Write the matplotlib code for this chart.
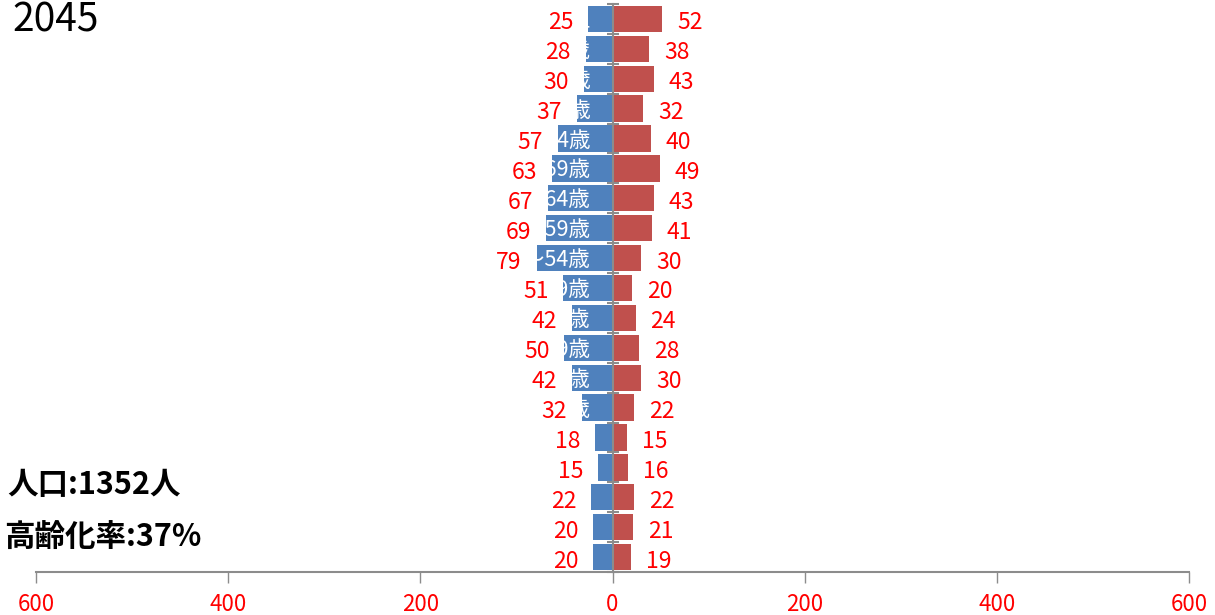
import numpy as np
import matplotlib.pyplot as plt

plt.rcParams['font.family'] = ['Noto Sans CJK JP', 'DejaVu Sans']

# 年齢階級（上から90歳以上 → 0～4歳）
ages = ["90歳以上", "85～89歳", "80～84歳", "75～79歳", "70～74歳", "65～69歳",
        "60～64歳", "55～59歳", "50～54歳", "45～49歳", "40～44歳", "35～39歳",
        "30～34歳", "25～29歳", "20～24歳", "15～19歳", "10～14歳", "5～9歳", "0～4歳"]
male = [25, 28, 30, 37, 57, 63, 67, 69, 79, 51, 42, 50, 42, 32, 18, 15, 22, 20, 20]
female = [52, 38, 43, 32, 40, 49, 43, 41, 30, 20, 24, 28, 30, 22, 15, 16, 22, 21, 19]
xticks = [-600, -400, -200, 0, 200, 400, 600]

year = "2045"
total = sum(male) + sum(female)
elderly = sum(male[:6]) + sum(female[:6])
aging_rate = round(elderly / total * 100)

BLUE = "#4F81BD"
RED = "#C0504D"
LABEL_RED = "#FF0000"
GRAY = "#8C8C8C"

fig = plt.figure(figsize=(12.15, 6.15), dpi=100)
ax = fig.add_axes([36 / 1215, 43 / 615, 1153 / 1215, 568 / 615])

n = len(ages)
y = np.arange(n)[::-1]

mbars = ax.barh(y, [-v for v in male], height=0.88, color=BLUE, zorder=1)
ax.barh(y, female, height=0.88, color=RED, zorder=1)

# 年齢階級ラベル（白文字、男性の棒の内側だけ表示）
for yi, a, bar in zip(y, ages, mbars):
    t = ax.annotate(a, xy=(0, yi), xytext=(-22, -2), textcoords='offset pixels',
                    ha='right', va='center', color='white', fontsize=15.5, zorder=3)
    t.set_clip_path(bar)

# 人数ラベル
for yi, m, f in zip(y, male, female):
    ax.annotate(str(m), xy=(-m, yi), xytext=(-15, -4), textcoords='offset pixels',
                ha='right', va='center', color=LABEL_RED, fontsize=16.5, zorder=4)
    ax.annotate(str(f), xy=(f, yi), xytext=(15, -4), textcoords='offset pixels',
                ha='left', va='center', color=LABEL_RED, fontsize=16.5, zorder=4)

ax.set_xlim(-600, 600)
ax.set_ylim(-0.5, n - 0.5)

ax.spines['top'].set_visible(False)
ax.spines['right'].set_visible(False)
ax.spines['left'].set_position(('data', 0))
ax.spines['left'].set_color(GRAY)
ax.spines['left'].set_linewidth(1.5)
ax.spines['bottom'].set_color(GRAY)
ax.spines['bottom'].set_linewidth(1.5)

ax.set_xticks(xticks)
ax.set_xticklabels([str(abs(t)) for t in xticks])
ax.tick_params(axis='x', direction='out', length=8, width=1, color=GRAY,
               labelcolor=LABEL_RED, labelsize=16, pad=7)

ax.set_yticks(np.arange(n + 1) - 0.5)
ax.set_yticklabels([])
ax.tick_params(axis='y', direction='inout', length=8, width=1.5, color=GRAY)

fig.text(12 / 1215, 1 - 1 / 615, year, ha='left', va='top', fontsize=28, color='black')
fig.text(7 / 1215, 1 - 485 / 615, f"人口:{total}人", ha='left', va='center',
         fontsize=22, fontweight='bold', color='black')
fig.text(4 / 1215, 1 - 538 / 615, f"高齢化率:{aging_rate}%", ha='left', va='center',
         fontsize=22, fontweight='bold', color='black')

fig.savefig("out.png", dpi=100)
